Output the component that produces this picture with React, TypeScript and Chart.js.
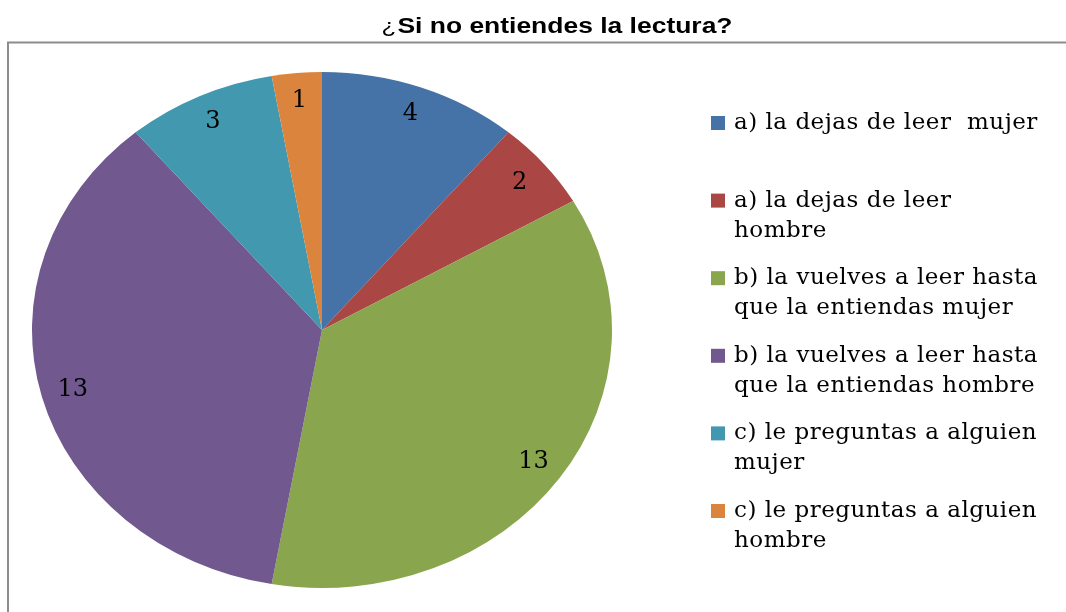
import React, { useEffect, useRef } from 'react';
import { Chart, registerables } from 'chart.js';

Chart.register(...registerables);

const titleText = '¿Si no entiendes la lectura?';
const categories: string[][] = [
  ['a) la dejas de leer  mujer'],
  ['a) la dejas de leer', 'hombre'],
  ['b) la vuelves a leer hasta', 'que la entiendas mujer'],
  ['b) la vuelves a leer hasta', 'que la entiendas hombre'],
  ['c) le preguntas a alguien', 'mujer'],
  ['c) le preguntas a alguien', 'hombre'],
];
const values = [4, 2, 13, 13, 3, 1];
const colors = ['#4572A7', '#AA4643', '#89A54E', '#71588F', '#4198AF', '#DB843D'];

const W = 1066;
const H = 612;
const STRETCH_X = 290 / 258;

const decorPlugin = {
  id: 'decor',
  beforeDraw(chart: any) {
    const ctx = chart.ctx;
    ctx.save();
    ctx.fillStyle = '#ffffff';
    ctx.fillRect(0, 0, W, H);
    // frame
    ctx.strokeStyle = '#8c8c8c';
    ctx.lineWidth = 2;
    ctx.beginPath();
    ctx.moveTo(8, H + 2);
    ctx.lineTo(8, 42.5);
    ctx.lineTo(W + 2, 42.5);
    ctx.stroke();
    // title (horizontally stretched like the source image)
    const q = titleText.slice(0, 1);
    const rest = titleText.slice(1);
    ctx.fillStyle = '#000000';
    ctx.textBaseline = 'alphabetic';
    ctx.textAlign = 'left';
    const fq = '20px "Liberation Sans", Arial, sans-serif';
    const fr = 'bold 22px "Liberation Sans", Arial, sans-serif';
    ctx.font = fq;
    const wq = ctx.measureText(q).width;
    ctx.font = fr;
    const wr = ctx.measureText(rest).width;
    const total = wq + 1 + wr;
    const target = 351;
    const sx = target / total;
    const x0 = 557 - target / 2;
    ctx.translate(x0, 33);
    ctx.scale(sx, 1);
    ctx.font = fq;
    ctx.fillText(q, 0, 0);
    ctx.font = fr;
    ctx.fillText(rest, wq + 1, 0);
    ctx.restore();
  },
  beforeDatasetsDraw(chart: any) {
    const ctx = chart.ctx;
    const a = chart.chartArea;
    const cx = (a.left + a.right) / 2;
    const cy = (a.top + a.bottom) / 2;
    ctx.save();
    ctx.translate(cx, cy);
    ctx.scale(STRETCH_X, 1);
    ctx.translate(-cx, -cy);
  },
  afterDatasetsDraw(chart: any) {
    const ctx = chart.ctx;
    ctx.restore();
    const meta = chart.getDatasetMeta(0);
    const data = chart.data.datasets[0].data as number[];
    ctx.save();
    ctx.fillStyle = '#000000';
    ctx.font = '24px "DejaVu Serif", serif';
    ctx.textAlign = 'center';
    ctx.textBaseline = 'middle';
    meta.data.forEach((el: any, i: number) => {
      const p = el.getProps(['x', 'y', 'startAngle', 'endAngle', 'outerRadius'], true);
      const mid = (p.startAngle + p.endAngle) / 2;
      const f = 0.89;
      const px = p.x + Math.cos(mid) * p.outerRadius * f * STRETCH_X;
      const py = p.y + Math.sin(mid) * p.outerRadius * f;
      ctx.fillText(String(data[i]), px, py);
    });
    ctx.restore();
  },
  afterDraw(chart: any) {
    const ctx = chart.ctx;
    ctx.save();
    ctx.font = '23px "DejaVu Serif", serif';
    try { (ctx as any).letterSpacing = '0.5px'; } catch (e) {}
    ctx.textAlign = 'left';
    ctx.textBaseline = 'middle';
    categories.forEach((lines, i) => {
      const y0 = 123 + i * 77.6;
      ctx.fillStyle = colors[i];
      ctx.fillRect(711, y0 - 7, 14, 14);
      ctx.fillStyle = '#000000';
      lines.forEach((ln, j) => {
        ctx.fillText(ln, 734, y0 + j * 30);
      });
    });
    ctx.restore();
  },
};

export default function App() {
  const ref = useRef<HTMLCanvasElement | null>(null);
  useEffect(() => {
    if (!ref.current) return;
    const chart = new Chart(ref.current, {
      type: 'pie',
      data: {
        labels: categories.map((l) => l.join(' ')),
        datasets: [
          {
            data: values,
            backgroundColor: colors,
            borderWidth: 0,
            clip: false as any,
          },
        ],
      },
      options: {
        responsive: false,
        animation: false,
        layout: { padding: { left: 64, right: W - 580, top: 72, bottom: H - 588 } },
        plugins: {
          legend: { display: false },
          title: { display: false },
          tooltip: { enabled: false },
        },
      },
      plugins: [decorPlugin],
    });
    return () => chart.destroy();
  }, []);
  return (
    <div style={{ position: 'absolute', left: 0, top: 0, width: W, height: H }}>
      <canvas ref={ref} width={W} height={H} />
    </div>
  );
}
